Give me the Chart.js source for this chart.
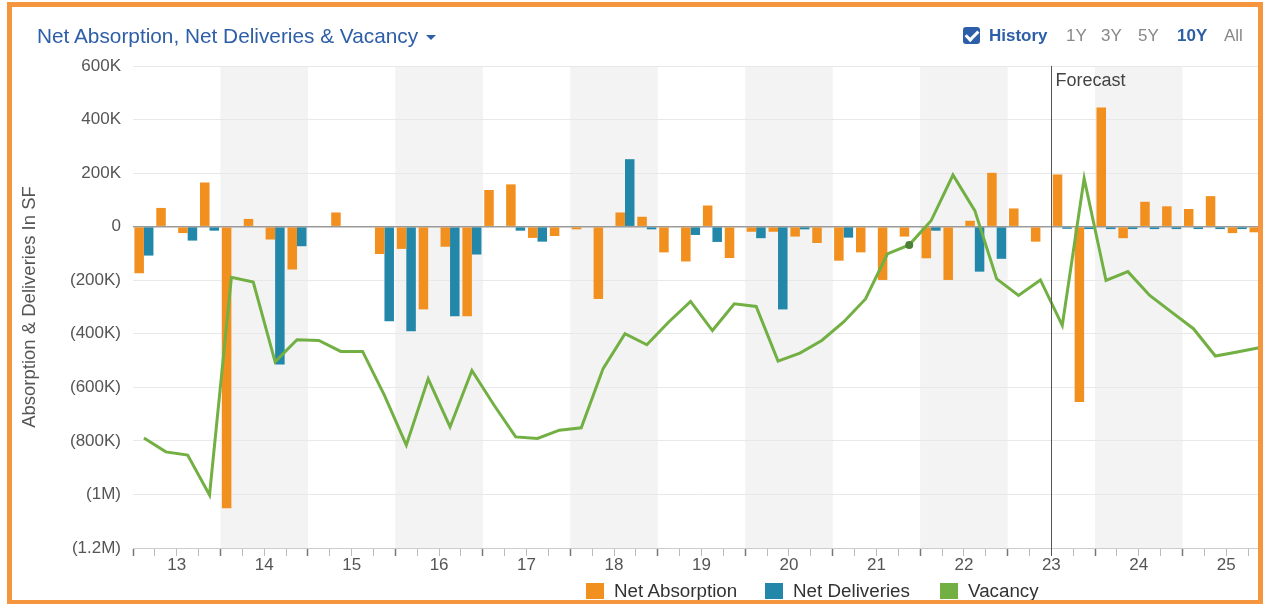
<!DOCTYPE html>
<html>
<head>
<meta charset="utf-8">
<title>Net Absorption, Net Deliveries & Vacancy</title>
<script src="https://cdn.jsdelivr.net/npm/chart.js"></script>
<style>
  html, body { margin: 0; padding: 0; background: #fff; overflow: hidden; width: 1263px; height: 604px; }
  body { position: relative; font-family: "Liberation Sans", Arial, Helvetica, sans-serif; }
  #wrap { position: absolute; left: 0; top: 0; width: 1285px; height: 604px; }
  #frame { position: absolute; left: 7px; top: 2px; width: 1256px; height: 602px; box-sizing: border-box;
           border: 5px solid #f5963f; border-bottom-width: 4px; pointer-events: none; }
  .txt { position: absolute; white-space: nowrap; line-height: 22px; }
  #title { left: 37px; top: 25px; font-size: 20.8px; color: #2d5ea8; }
  #title .caret { display: inline-block; width: 0; height: 0; margin-left: 8px; vertical-align: middle;
                  border-left: 5px solid transparent; border-right: 5px solid transparent; border-top: 5px solid #2d5ea8; }
  #chk { position: absolute; left: 963px; top: 27px; width: 17px; height: 17px; background: #2d5ea8; border-radius: 3px; }
  #chk:after { content: ""; position: absolute; left: 5px; top: 1px; width: 5px; height: 10px;
               border-right: 3px solid #fff; border-bottom: 3px solid #fff; transform: rotate(45deg); }
  .rng { top: 25px; font-size: 17px; color: #888; }
  .on { color: #2d5ea8; font-weight: bold; }
  .lg { position: absolute; top: 581px; height: 20px; }
  .lg .box { position: absolute; left: 0; top: 2px; width: 18px; height: 16px; }
  .lg .lbl { position: absolute; left: 28px; top: -1px; font-size: 18.8px; line-height: 22px; color: #333; white-space: nowrap; }
</style>
</head>
<body>
<div id="wrap"><canvas id="chart"></canvas></div>

<div id="title" class="txt">Net Absorption, Net Deliveries &amp; Vacancy<span class="caret"></span></div>
<div id="chk"></div>
<div class="txt rng on" style="left:989px">History</div>
<div class="txt rng" style="left:1066px">1Y</div>
<div class="txt rng" style="left:1101px">3Y</div>
<div class="txt rng" style="left:1138px">5Y</div>
<div class="txt rng on" style="left:1177px">10Y</div>
<div class="txt rng" style="left:1224px">All</div>

<div id="legend"></div>
<div id="frame"></div>

<script>
// quarters 2013 Q1 .. 2025 Q4, values in thousands of SF
var years = ['13', '14', '15', '16', '17', '18', '19', '20', '21', '22', '23', '24', '25'];
var shadedYears = ['14', '16', '18', '20', '22', '24'];
var forecastFrom = '23 Q3';
var markedQuarter = '21 Q4';

var quarterLabels = [];
years.forEach(function (y) {
  ['Q1', 'Q2', 'Q3', 'Q4'].forEach(function (q) { quarterLabels.push(y + ' ' + q); });
});

var netAbsorption = [
  -174, 70, -24, 165,
  -1052, 29, -48, -160,
  3, 53, 0, -102,
  -83, -309, -75, -335,
  137, 158, -42, -35,
  -10, -270, 53, 37,
  -96, -130, 79, -117,
  -19, -19, -37, -61,
  -127, -96, -199, -37,
  -118, -199, 22, 201,
  68, -56, 195, -655,
  445, -43, 93, 76,
  66, 114, -24, -21
];

var netDeliveries = [
  -108, 0, -52, -15,
  0, 0, -515, -73,
  0, 0, 0, -353,
  -391, 0, -335, -104,
  0, -15, -56, 0,
  0, 0, 252, -10,
  0, -31, -57, 0,
  -43, -309, -10, 0,
  -41, 0, 0, 0,
  -15, 0, -168, -120,
  0, 0, -8, -9,
  -9, -9, -9, -9,
  -9, -9, -9, -9
];

// vacancy line, read against the left axis
var vacancy = [
  -789, -841, -853, -1002,
  -189, -207, -505, -422,
  -425, -466, -466, -630,
  -816, -568, -748, -537,
  -665, -785, -791, -760,
  -751, -530, -400, -441,
  -356, -279, -388, -288,
  -298, -502, -472, -425,
  -356, -270, -102, -68,
  22, 193, 60, -195,
  -257, -199, -369, 180,
  -201, -168, -257, -319,
  -381, -483, -468, -452
];

var colors = { absorption: '#f2901f', deliveries: '#2287a8', vacancy: '#72b043' };
var seriesNames = ['Net Absorption', 'Net Deliveries', 'Vacancy'];

function fmtK(v) {
  if (v === 0) return '0';
  var a = Math.abs(v);
  var s = a >= 1000 ? (a / 1000) + 'M' : a + 'K';
  return v < 0 ? '(' + s + ')' : s;
}

var bandsPlugin = {
  id: 'bands',
  beforeDraw: function (chart) {
    var ctx = chart.ctx, area = chart.chartArea, xs = chart.scales.xYear;
    ctx.save();
    ctx.fillStyle = '#f3f3f3';
    shadedYears.forEach(function (y) {
      var i = years.indexOf(y);
      var x0 = xs.getPixelForValue(i * 4 - 0.5), x1 = xs.getPixelForValue(i * 4 + 3.5);
      ctx.fillRect(x0, area.top, x1 - x0, area.bottom - area.top);
    });
    ctx.restore();
  },
  afterDatasetsDraw: function (chart) {
    var ctx = chart.ctx, area = chart.chartArea, xs = chart.scales.xYear;
    var x = Math.round(xs.getPixelForValue(quarterLabels.indexOf(forecastFrom) - 0.5)) + 0.5;
    ctx.save();
    ctx.strokeStyle = '#555';
    ctx.lineWidth = 1;
    ctx.beginPath();
    ctx.moveTo(x, area.top);
    ctx.lineTo(x, area.bottom + 8);
    ctx.stroke();
    ctx.fillStyle = '#444';
    ctx.font = '18px "Liberation Sans", Arial, sans-serif';
    ctx.textBaseline = 'middle';
    ctx.fillText('Forecast', x + 4, area.top + 15);
    ctx.restore();
  }
};

var markIndex = quarterLabels.indexOf(markedQuarter);

new Chart(document.getElementById('chart'), {
  type: 'bar',
  data: {
    labels: quarterLabels,
    datasets: [
      { type: 'line', label: seriesNames[2], data: vacancy, borderColor: colors.vacancy, backgroundColor: colors.vacancy,
        borderWidth: 3, tension: 0, order: 0, xAxisID: 'x', yAxisID: 'y',
        pointRadius: function (c) { return c.dataIndex === markIndex ? 4 : 0; },
        pointBackgroundColor: '#4d7f35', pointBorderWidth: 0 },
      { label: seriesNames[0], data: netAbsorption, backgroundColor: colors.absorption, order: 1, xAxisID: 'x', yAxisID: 'y',
        categoryPercentage: 0.87, barPercentage: 1.0 },
      { label: seriesNames[1], data: netDeliveries, backgroundColor: colors.deliveries, order: 1, xAxisID: 'x', yAxisID: 'y',
        categoryPercentage: 0.87, barPercentage: 1.0 }
    ]
  },
  options: {
    responsive: true,
    maintainAspectRatio: false,
    animation: false,
    events: [],
    layout: { padding: { left: 15, right: 15, top: 66, bottom: 28 } },
    plugins: { legend: { display: false }, tooltip: { enabled: false } },
    scales: {
      x: { type: 'category', display: false, offset: true },
      xYear: {
        type: 'linear', position: 'bottom', min: -0.5, max: 51.5, offset: false,
        afterBuildTicks: function (scale) {
          var t = [];
          for (var q = 0; q <= quarterLabels.length; q++) t.push({ value: q - 0.5 });
          scale.ticks = t;
        },
        afterFit: function (scale) { scale.height = 28; },
        grid: {
          display: true, offset: false, drawOnChartArea: false, drawTicks: true, tickLength: 8,
          tickColor: function (c) { return c.tick && (c.tick.value + 0.5) % 4 === 0 ? '#777' : '#bbb'; },
          tickWidth: function (c) { return c.tick && (c.tick.value + 0.5) % 4 === 0 ? 1.5 : 1; }
        },
        border: { display: true, color: '#ccc', width: 1 },
        ticks: {
          autoSkip: false, maxRotation: 0, padding: -1, color: '#555',
          font: { size: 17, family: '"Liberation Sans", Arial, sans-serif' },
          callback: function (v) {
            var q = Math.round(v + 0.5);
            return q % 4 === 2 ? years[(q - 2) / 4] : '';
          }
        }
      },
      y: {
        min: -1200, max: 600,
        afterFit: function (scale) { scale.width = 118; },
        grid: {
          drawTicks: false,
          color: function (c) { return c.tick && c.tick.value === 0 ? '#9a9a9a' : '#e8e8e8'; },
          lineWidth: function (c) { return c.tick && c.tick.value === 0 ? 1.5 : 1; }
        },
        border: { display: false },
        ticks: {
          stepSize: 200, padding: 12, color: '#555',
          font: { size: 17, family: '"Liberation Sans", Arial, sans-serif' },
          callback: function (v) { return fmtK(v); }
        },
        title: {
          display: true, text: 'Absorption & Deliveries In SF', color: '#555',
          padding: { top: 4, bottom: 4 },
          font: { size: 18.5, family: '"Liberation Sans", Arial, sans-serif' }
        }
      }
    }
  },
  plugins: [bandsPlugin]
});

// legend items, same series names and colours as the datasets
var legendX = [586, 765, 940];
var legendColors = [colors.absorption, colors.deliveries, colors.vacancy];
var lg = document.getElementById('legend');
seriesNames.forEach(function (name, i) {
  var d = document.createElement('div');
  d.className = 'lg';
  d.style.left = legendX[i] + 'px';
  d.innerHTML = '<span class="box" style="background:' + legendColors[i] + '"></span><span class="lbl"></span>';
  d.querySelector('.lbl').textContent = name;
  lg.appendChild(d);
});
</script>
</body>
</html>
